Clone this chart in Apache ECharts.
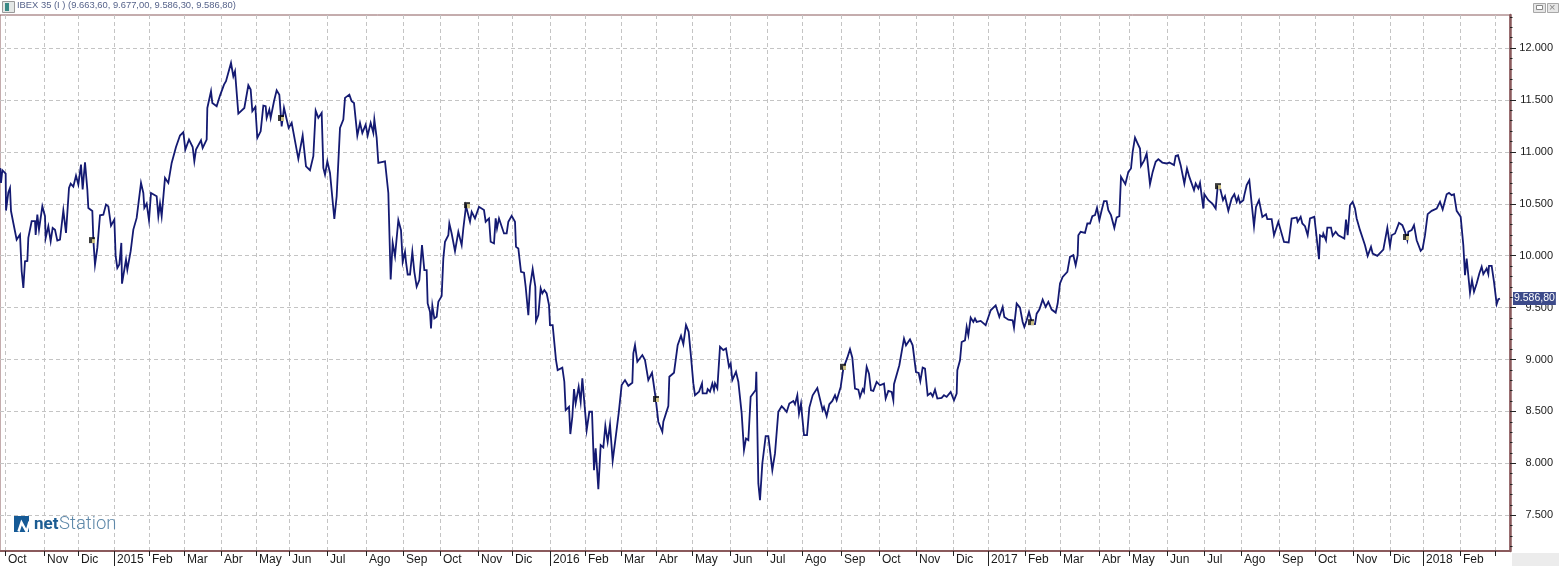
<!DOCTYPE html>
<html><head><meta charset="utf-8">
<style>html,body{margin:0;padding:0;background:#fff}#c{width:1564px;height:572px}</style>
<script src="https://cdn.jsdelivr.net/npm/echarts@6/dist/echarts.min.js"></script>
</head><body><div id="c"></div>
<script>
const titleText = 'IBEX 35 (I ) (9.663,60, 9.677,00, 9.586,30, 9.586,80)';
const lastLabel = '9.586,80';
const monthLabels = ['Oct','Nov','Dic','2015','Feb','Mar','Abr','May','Jun','Jul','Ago','Sep','Oct','Nov','Dic','2016','Feb','Mar','Abr','May','Jun','Jul','Ago','Sep','Oct','Nov','Dic','2017','Feb','Mar','Abr','May','Jun','Jul','Ago','Sep','Oct','Nov','Dic','2018','Feb',''];
const monthSessions = [3,26.4,46.8,68.4,89.4,110.4,132.6,153.6,173.4,196.2,219.6,241.8,264,286.8,307.2,330,351,372.6,393.6,415.2,438,460.2,481.2,504.6,527.4,549.6,571.8,592.8,615,636,659.4,677.4,700.2,722.4,744.6,767.4,789,811.8,834,853.8,876,897];
const yearSessions = [68.4,330,592.8,853.8];
const priceTicks = [7500,8000,8500,9000,9500,10000,10500,11000,11500,12000];
const minorPriceTicks = [7200,7300,7400,7600,7700,7800,7900,8100,8200,8300,8400,8600,8700,8800,8900,9100,9200,9300,9400,9600,9700,9800,9900,10100,10200,10300,10400,10600,10700,10800,10900,11100,11200,11300,11400,11600,11700,11800,11900,12100,12200,12300];
const dividendMarks = [[55.2,10150],[168.6,11326],[280.2,10487],[393.6,8620],[505.8,8930],[618.6,9360],[730.8,10670],[843.6,10180]];
const closes = [
[0,10845],[0.6,10700],[1.4,10823],[3.4,10790],[3.6,10435],[5,10610],[6,10653],[6.6,10430],[8,10315],[10,10155],
[12,10203],[13,9850],[14,9690],[15,9946],[16.4,9950],[17,10171],[19,10332],[21,10332],[21.4,10200],[22.4,10396],
[23.4,10251],[25.4,10476],[27,10380],[27.4,10170],[29,10283],[30.4,10139],[31.6,10267],[33,10250],[34.4,10145],[36,10155],
[38,10437],[39.6,10219],[41.4,10653],[42.4,10694],[44,10665],[45.6,10771],[47,10685],[48.6,10877],[49.6,10637],[51,10900],
[52.4,10637],[53,10460],[55.4,10430],[56,10155],[57,9914],[58.4,10075],[60,10389],[62,10395],[63.6,10492],[65,10475],
[66.6,10290],[68.6,10348],[69.4,9995],[70.4,9882],[71.6,9915],[72.8,10123],[73.2,9731],[75.6,9962],[76.4,9866],[78.4,10043],
[80,10251],[82,10364],[84.6,10701],[86,10604],[86.6,10460],[88,10502],[89.4,10341],[90.6,10604],[94,10572],[95,10380],
[96,10502],[97,10380],[99,10749],[101,10701],[103,10893],[105.6,11047],[108,11157],[110,11189],[111.2,11022],[113.4,11118],
[115.6,11047],[116.6,10909],[117.6,11022],[120.6,11112],[121.6,11038],[124,11118],[124.4,11423],[126.6,11583],[127.4,11471],[130,11439],
[132,11542],[134.4,11648],[135.6,11680],[138.6,11856],[140,11728],[141,11776],[143,11368],[146.6,11423],[149,11641],[150.4,11600],
[151.4,11391],[153.2,11433],[154.4,11134],[156.4,11198],[158,11445],[159.4,11440],[160,11327],[161.6,11407],[162.4,11327],[164.4,11487],
[166,11593],[167.6,11550],[169,11246],[170.4,11423],[171.6,11407],[173.2,11230],[175,11279],[176,11279],[179,10932],[181.6,11157],
[183.6,10861],[186,10823],[188,10958],[189.4,11397],[191,11327],[193,11375],[194,10845],[195,10781],[196.4,10909],[198,10797],
[200.6,10354],[202,10572],[204,11230],[206,11311],[207,11520],[209.6,11551],[211,11487],[212.4,11471],[214.4,11157],[216,11279],
[217.4,11182],[219.4,11262],[220.6,11157],[222.4,11279],[224,11182],[224.6,11311],[226,11134],[227,10893],[231,10909],[233,10604],
[234.4,9770],[235.6,10123],[237,9995],[239,10343],[240.6,10246],[241.6,9941],[243,10038],[243.6,9941],[244.6,9819],[246,9819],
[247.4,10038],[248.6,9845],[250,9701],[251.6,9765],[253.2,10102],[254.6,9861],[256,9861],[256.6,9540],[258,9460],[258.6,9299],
[259.4,9518],[260.6,9396],[262,9412],[263,9556],[265,9611],[266,9974],[267,10134],[269,10198],[269.6,10311],[271,10214],
[273,10044],[275,10230],[277,10102],[278,10262],[279.6,10478],[282,10327],[283,10423],[285,10359],[287.4,10471],[290.4,10439],
[291.4,10327],[293.4,10359],[294.4,10134],[296.4,10118],[297.4,10359],[298.2,10262],[299.4,10359],[302.4,10214],[304,10214],[305,10327],
[307,10384],[309,10327],[309.6,10086],[311,10070],[312.6,9845],[314.4,9836],[315.4,9701],[317,9428],[318,9701],[319.6,9871],
[321.2,9701],[321.6,9370],[323,9428],[324.4,9685],[325.4,9637],[326.6,9669],[328,9637],[329.4,9524],[330,9332],[331.6,9332],
[333.6,8995],[334.6,8898],[337.4,8921],[338.6,8786],[339.4,8513],[341.4,8545],[342.2,8282],[343.4,8449],[344.4,8715],[345.4,8577],
[347.2,8738],[348.4,8593],[349.4,8818],[350.6,8802],[352,8320],[353.6,8497],[355.2,8497],[356,8128],[356.4,7935],[357.4,8144],
[358.2,7951],[359,7752],[360.4,8176],[362,8153],[363.2,8362],[364.6,8208],[366,8375],[367.6,8025],[369.2,8224],[371.2,8481],
[373,8754],[375,8802],[377,8747],[379.4,8776],[380,9059],[381,9139],[382.4,8978],[383.6,8972],[385.4,9043],[387,8995],
[389,8802],[391.2,8873],[392,8786],[393.4,8625],[395,8401],[397.4,8304],[398,8401],[401,8552],[401.6,8834],[404.4,8873],
[406.6,9139],[408.6,9229],[410,9149],[411.6,9332],[413.2,9267],[414.6,9027],[416,8770],[417,8657],[419.4,8690],[421.2,8770],
[421.6,8674],[424,8674],[424.6,8715],[426,8690],[427.4,8770],[428.4,8706],[429,8770],[430.4,8722],[432,9123],[434,9091],
[435.6,9107],[437.4,8930],[438.4,8962],[439.4,8802],[441.6,8882],[443,8786],[445,8481],[446.4,8128],[447.6,8240],[449,8224],
[450.4,8641],[453.4,8706],[453.8,8882],[454.4,8336],[455,7807],[456,7646],[457.4,7999],[459.4,8263],[461,8263],[463.4,7935],
[465,8096],[467,8497],[469,8550],[470.4,8527],[472,8495],[473.6,8576],[476,8601],[477,8569],[478.4,8656],[479.4,8479],
[480.6,8576],[482.4,8271],[484.2,8271],[485.6,8537],[487.6,8656],[490.4,8726],[491.6,8720],[493.6,8511],[494.4,8543],[496,8454],
[497.6,8569],[499.4,8601],[501,8656],[502,8608],[504.4,8736],[506,8913],[508.4,9018],[510,9099],[511.4,9018],[513,8720],
[515,8710],[516,8640],[517.6,8714],[518.4,8688],[520,8929],[521.4,8864],[522.6,8704],[524,8698],[526,8784],[528,8752],
[530.4,8768],[531.4,8624],[533,8698],[535,8688],[536,8608],[536.4,8762],[537.6,8752],[539.6,8945],[541,9073],[542.4,9201],
[543.6,9137],[546,9195],[547.6,9137],[549.6,8880],[551.2,8870],[552.2,8791],[553.6,8922],[555,8912],[556.6,8656],[558.4,8678],
[559.6,8646],[561,8710],[562.4,8624],[565,8630],[566.4,8656],[568,8640],[570.4,8688],[572.4,8608],[574,8672],[574.4,8897],
[576,8993],[577,9169],[579,9185],[580,9314],[581,9234],[582.4,9404],[584,9362],[585,9394],[586,9362],[588.4,9372],
[591.4,9330],[594.4,9474],[597.4,9522],[599.6,9410],[601.6,9506],[602.6,9410],[605,9384],[607.6,9378],[608.4,9307],[610,9539],
[612,9500],[613.6,9362],[614.6,9314],[616,9378],[617.4,9458],[619.4,9340],[621,9340],[622,9442],[623.6,9481],[625.6,9577],
[627.4,9506],[629,9555],[631,9481],[633.4,9452],[634.6,9539],[636,9732],[637.6,9796],[640.4,9844],[642,9989],[644,10005],
[645.4,9909],[646.6,10005],[647,10197],[648.4,10230],[651,10220],[652.4,10310],[654,10310],[655.4,10380],[657,10390],[658.2,10461],
[659.6,10342],[661,10438],[662.4,10525],[664,10525],[665,10438],[666.6,10390],[668.6,10268],[670,10368],[671.6,10380],[672.6,10759],
[673.6,10775],[675.2,10689],[677,10807],[678.6,10840],[679.6,11000],[681,11138],[682.4,11087],[684,11032],[684.6,10865],[686.6,10920],
[688,10984],[690,10689],[691.6,10807],[693.4,10904],[695,10929],[697.4,10897],[700,10888],[701.6,10897],[704.4,10872],[705.4,10961],
[706.8,10968],[708.4,10872],[709.4,10872],[710.6,10695],[712.2,10840],[713.6,10759],[716.4,10631],[717.4,10695],[719,10647],[720,10701],
[722,10454],[722.6,10592],[725,10535],[727.4,10502],[729.4,10454],[730.6,10663],[732,10653],[733.8,10535],[735,10573],[737,10432],
[739,10551],[740.6,10592],[742,10519],[743,10567],[744,10509],[746,10535],[746.6,10583],[748,10679],[749.6,10727],[751,10502],
[752.4,10284],[753.6,10470],[755.4,10535],[757.4,10374],[759.6,10400],[760.4,10352],[763,10352],[764.4,10197],[767,10326],[770.4,10133],
[773.2,10127],[775,10358],[778,10368],[778.6,10326],[780.4,10374],[781.4,10310],[783,10284],[784.6,10197],[786,10358],[788.6,10374],
[789.4,10262],[790.6,10246],[791.4,9966],[792,10197],[793.6,10181],[794,10213],[795.6,10149],[796.4,10271],[798.6,10271],[799.6,10191],
[801.4,10230],[803,10197],[806.6,10165],[807.6,10348],[808.6,10197],[810,10486],[811.6,10519],[813,10454],[814,10358],[816,10246],
[819,10101],[820.6,9998],[822.6,10085],[823.6,10021],[826.4,9998],[830,10059],[832.4,10268],[834,10092],[835,10197],[837,10214],
[839.4,10316],[841.4,10294],[843,10230],[844.4,10149],[845,10230],[847,10246],[848.4,10294],[850,10149],[852.4,10047],[853.6,10069],
[855,10197],[856.6,10400],[859,10432],[862,10454],[864,10519],[865.6,10445],[868,10592],[869.4,10605],[871,10583],[872.4,10592],
[874,10432],[876.4,10374],[878,10101],[879,9812],[880,9973],[882,9642],[883.2,9764],[884.4,9652],[886,9732],[887.6,9828],
[889,9893],[890,9822],[892,9876],[893,9822],[893.4,9902],[895,9902],[896.4,9748],[898,9533],[899,9581],[900,9586.8]
];

const frame = '#8a5a5c';
const fmtPrice = v => String(v).replace(/(\d)(\d{3})$/, '$1.$2');
const chart = echarts.init(document.getElementById('c'), null, {renderer:'canvas'});
const xMax = 906, yMin = 7156, yMax = 12318;
const baseX = {type:'value', min:0, max:xMax, position:'bottom'};
const baseY = {type:'value', min:yMin, max:yMax, position:'right', scale:true};
chart.setOption({
  animation:false,
  backgroundColor:'#fff',
  grid:{left:0, top:15, width:1510, height:536, show:true, borderColor:frame, borderWidth:1, backgroundColor:'#fff'},
  xAxis:[
    Object.assign({}, baseX, {
      axisLine:{show:true, onZero:false, lineStyle:{color:frame, width:2}},
      axisTick:{show:true, customValues:monthSessions, length:5, lineStyle:{color:'#222', width:1}},
      axisLabel:{show:true, customValues:monthSessions, align:'left', margin:3, padding:[0,0,0,3],
        hideOverlap:false, showMinLabel:true, showMaxLabel:true,
        color:'#1a1a1a', fontFamily:'Liberation Sans', fontSize:12,
        formatter:v => monthLabels[monthSessions.indexOf(v)]},
      splitLine:{show:true, lineStyle:{color:'#c4c4c4', type:[4,3], width:1}}
    }),
    Object.assign({}, baseX, {
      axisLine:{show:false, onZero:false},
      axisTick:{show:true, customValues:yearSessions, length:15, lineStyle:{color:'#222', width:1}},
      axisLabel:{show:false}, splitLine:{show:false}
    })
  ],
  yAxis:[
    Object.assign({}, baseY, {
      axisLine:{show:true, onZero:false, lineStyle:{color:frame, width:2.5}},
      axisTick:{show:true, customValues:priceTicks, length:6, lineStyle:{color:'#222', width:1}},
      axisLabel:{show:true, customValues:priceTicks, align:'right', margin:43, color:'#1a1a1a',
        fontFamily:'Liberation Sans', fontSize:11, formatter:fmtPrice},
      splitLine:{show:true, lineStyle:{color:'#c4c4c4', type:[4,3], width:1}}
    }),
    Object.assign({}, baseY, {
      axisLine:{show:false, onZero:false},
      axisTick:{show:true, customValues:minorPriceTicks, length:2.5, lineStyle:{color:'#222', width:1}},
      axisLabel:{show:false}, splitLine:{show:false}
    })
  ],
  series:[
    {type:'line', name:'IBEX 35', data:closes, showSymbol:false, symbol:'none',
      lineStyle:{color:'#141a72', width:1.8, join:'miter'}, z:3,
      endLabel:{show:true, formatter:()=>lastLabel, color:'#fff', backgroundColor:'#3c4a8a',
        fontFamily:'Liberation Sans', fontSize:10.5, padding:[1,1,1,1], distance:13}},
    {type:'scatter', name:'marcaNegra', data:dividendMarks, symbol:'rect', symbolSize:6,
      itemStyle:{color:'#0a0a0a'}, z:4},
    {type:'scatter', name:'marcaAmarilla', data:dividendMarks, symbol:'rect', symbolSize:[3,4],
      symbolOffset:[1.5,1], itemStyle:{color:'#f6e89a'}, z:5}
  ],
  graphic:[
    {type:'rect', left:2, top:1, z:10, shape:{width:12,height:11}, style:{fill:'#e4e8e6', stroke:'#9a9a9a'}},
    {type:'rect', left:5, top:3, z:11, shape:{width:4,height:8}, style:{fill:'#3a8a86'}},
    {type:'text', left:17, top:1, z:10, style:{text:titleText, fill:'#56638a', font:'9.4px "Liberation Sans"'}},
    {type:'rect', left:1533, top:3, z:10, shape:{width:12,height:9}, style:{fill:'#e6e6e6', stroke:'#a8a8a8'}},
    {type:'rect', left:1536, top:5, z:11, shape:{width:6,height:4}, style:{fill:'#fff', stroke:'#888'}},
    {type:'rect', left:1547, top:3, z:10, shape:{width:11,height:9}, style:{fill:'#e6e6e6', stroke:'#a8a8a8'}},
    {type:'text', left:1549, top:2, z:11, style:{text:'×', fill:'#888', font:'11px "Liberation Sans"'}},
    {type:'rect', left:1512, top:553, z:10, shape:{width:47,height:13}, style:{fill:'#ececec'}},
    {type:'rect', left:14, top:516, z:10, shape:{width:15,height:16}, style:{fill:'#155a96'}},
    {type:'polyline', left:16, top:519, z:11, shape:{points:[[0,10],[3,1],[8,10],[11,0]]}, style:{stroke:'#fff', fill:null, lineWidth:2.4}},
    {type:'text', left:34, top:516, z:10, style:{text:'net', fill:'#1c5c92', font:'bold 17px "Roboto"'}},
    {type:'text', left:59, top:515, z:10, style:{text:'Station', fill:'#5f89aa', font:'300 18.5px "Roboto"'}}
  ]
});
</script></body></html>
